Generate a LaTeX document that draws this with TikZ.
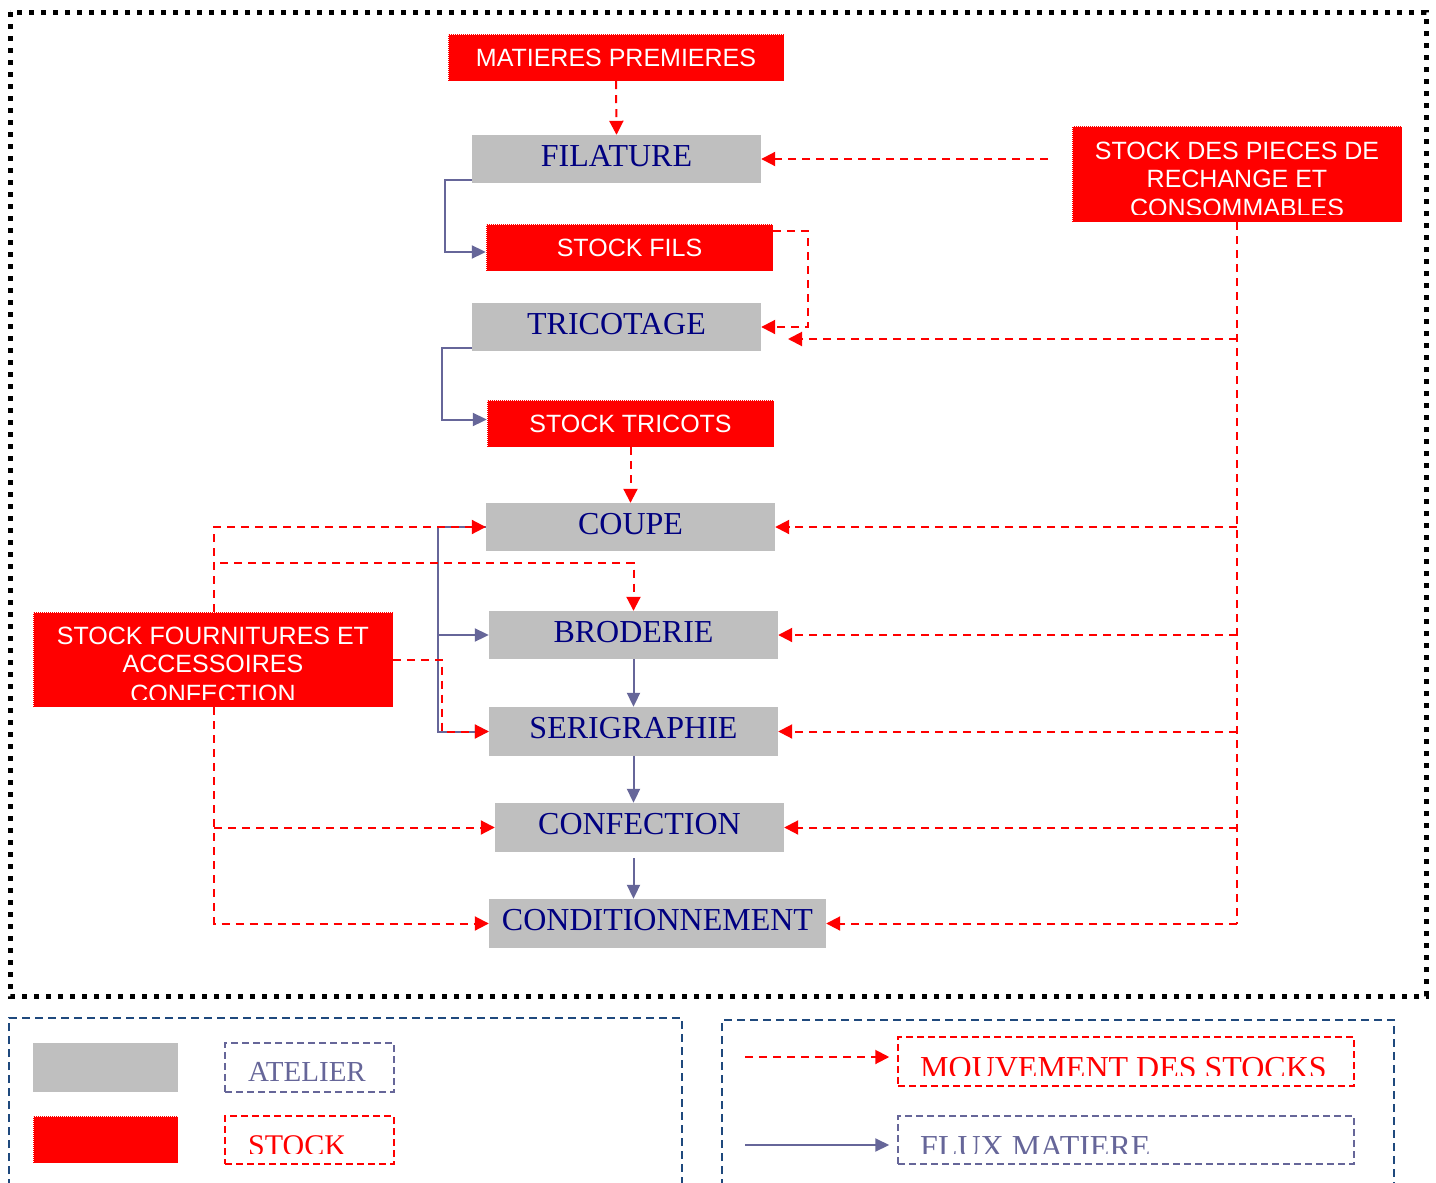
\documentclass[tikz,border=0pt]{standalone}
\usepackage{fontspec}
\setmainfont{Liberation Serif}
\setsansfont{Liberation Sans}
\usetikzlibrary{arrows.meta}
\definecolor{atelier}{RGB}{191,191,191}
\definecolor{navytext}{RGB}{0,0,128}
\definecolor{flux}{RGB}{102,102,153}
\definecolor{legendframe}{RGB}{31,73,125}
\tikzset{
  workshop/.style={fill=atelier, inner sep=0pt, font=\fontsize{32}{32}\selectfont,
    text=navytext, text height=22pt, text depth=8pt},
  stockbox/.style={fill=red, inner sep=0pt, text=white,
    font=\sffamily\fontsize{25}{28}\selectfont, text height=18pt, text depth=0pt,
    postaction={draw=white, line width=1pt, dash pattern=on 1pt off 1pt}},
  stocktext/.style={text=white, inner sep=0pt, anchor=base,
    font=\sffamily\fontsize{25}{28}\selectfont},
  move/.style={red, line width=2pt, dash pattern=on 8pt off 6pt,
    -{Triangle[length=14pt,width=14pt]}},
  moveline/.style={red, line width=2pt, dash pattern=on 8pt off 6pt},
  flow/.style={flux, line width=2pt, -{Triangle[length=14pt,width=13pt]}},
  flowline/.style={flux, line width=2pt},
  keybox/.style={inner sep=0pt, line width=1.5pt, dash pattern=on 7pt off 4pt},
  keytext/.style={inner sep=0pt, anchor=base west, font=\fontsize{32}{32}\selectfont},
}
\begin{document}
\begin{tikzpicture}[x=1pt,y=-1pt]
\clip (0,0) rectangle (1436,1183);
\fill[white] (0,0) rectangle (1436,1183);

% outer frame
\draw[black, line width=5pt, dash pattern=on 5pt off 7pt] (10,12) rectangle (1426,996);

% workshops
\node[workshop, minimum width=289pt, minimum height=48pt] (fil)   at (616.5,159)   {FILATURE};
\node[workshop, minimum width=289pt, minimum height=48pt] (tric)  at (616.5,327)   {TRICOTAGE};
\node[workshop, minimum width=289pt, minimum height=48pt] (coupe) at (630.5,527)   {COUPE};
\node[workshop, minimum width=289pt, minimum height=48pt] (brod)  at (633.5,635)   {BRODERIE};
\node[workshop, minimum width=289pt, minimum height=49pt] (seri)  at (633.5,731.5) {SERIGRAPHIE};
\node[workshop, minimum width=289pt, minimum height=49pt] (conf)  at (639.5,827.5) {CONFECTION};
\node[workshop, minimum width=337pt, minimum height=49pt] (cond)  at (657.5,923.5) {CONDITIONNEMENT};

% stocks
\node[stockbox, minimum width=336pt, minimum height=47pt] (mat)   at (616,57.5)    {MATIERES PREMIERES};
\node[stockbox, minimum width=287pt, minimum height=47pt] (sfils) at (629.5,247.5) {STOCK FILS};
\node[stockbox, minimum width=287pt, minimum height=47pt] (stric) at (630.5,423.5) {STOCK TRICOTS};
\node[stockbox, minimum width=330pt, minimum height=96pt] (pieces) at (1237,174) {};
\node[stockbox, minimum width=360pt, minimum height=95pt] (fourn)  at (213,659.5) {};
\begin{scope}
  \clip (1072,126) rectangle (1402,214);
  \node[stocktext] at (1237,159) {STOCK DES PIECES DE};
  \node[stocktext] at (1237,187) {RECHANGE ET};
  \node[stocktext] at (1237,216) {CONSOMMABLES};
\end{scope}
\begin{scope}
  \clip (33,612) rectangle (393,699);
  \node[stocktext] at (213,644) {STOCK FOURNITURES ET};
  \node[stocktext] at (213,672) {ACCESSOIRES};
  \node[stocktext] at (213,702) {CONFECTION};
\end{scope}

% material flow
\draw[flow] ([yshift=-21pt]fil.west) -- ++(-27,0) |- ([yshift=-4.5pt]sfils.west);
\draw[flow] ([yshift=-21pt]tric.west) -- ++(-30,0) |- ([yshift=4pt]stric.west);
\draw[flow] (coupe.west) -- ++(-48,0) |- (seri.west);
\draw[flow] ([xshift=-48pt]coupe.west |- brod.west) -- (brod.west);
\draw[flow] (brod.south) -- (seri.north);
\draw[flow] (seri.south) -- (seri.south |- conf.north);
\draw[flow] ([yshift=-6pt]seri.south |- conf.south) -- (seri.south |- cond.north);

% stock movements
\draw[move] (mat.south) -- (fil.north);
\draw[move] (stric.south) -- (coupe.north);
\draw[move] ([yshift=16.5pt]sfils.east) -- ++(35,0) |- (tric.east);

\coordinate (pfeed) at (1048,159);
\coordinate (tricin) at (788,339);
\draw[move] (pfeed) -- (fil.east);
\draw[moveline] (pieces.south) -- (pieces.south |- cond.east);
\draw[moveline] (pieces.south |- tricin) -- ++(-10,0);
\draw[move] (pieces.south |- tricin) -- (tricin);
\draw[move] (pieces.south |- coupe.east) -- (coupe.east);
\draw[move] (pieces.south |- brod.east) -- (brod.east);
\draw[move] (pieces.south |- seri.east) -- (seri.east);
\draw[move] (pieces.south |- conf.east) -- (conf.east);
\draw[move] (pieces.south |- cond.east) -- (cond.east);

\coordinate (fbrod) at (220,563);
\draw[move] ([xshift=1pt]fourn.north) -- ([xshift=1pt]fourn.north |- coupe.west) -- (coupe.west);
\draw[move] (fbrod) -| (brod.north);
\draw[move] (fourn.east) -- ++(49,0) |- (seri.west);
\draw[move] ([xshift=1pt]fourn.south) -- ([xshift=1pt]fourn.south |- cond.west) -- (cond.west);
\draw[move] ([xshift=1pt]fourn.south |- conf.west) -- (conf.west);

% key
\draw[legendframe, line width=2pt, dash pattern=on 8pt off 5pt] (9,1200) |- (682,1018) -- (682,1200);
\draw[legendframe, line width=2pt, dash pattern=on 8pt off 5pt] (722,1200) |- (1394,1020) -- (1394,1200);

\node[fill=atelier, inner sep=0pt, minimum width=145pt, minimum height=49pt] (swgray) at (105.5,1067.5) {};
\node[stockbox, minimum width=145pt, minimum height=47pt] (swred) at (105.5,1139.5) {};

\node[keybox, draw=flux, minimum width=169pt, minimum height=49pt] (katelier) at (309.5,1067.5) {};
\node[keytext, text=flux, font=\fontsize{29}{29}\selectfont] at (248,1081) {ATELIER};
\node[keybox, draw=red, minimum width=169pt, minimum height=48pt] (kstock) at (309.5,1140) {};
\begin{scope}
  \clip (225,1116) rectangle (394,1153);
  \node[keytext, text=red, font=\fontsize{30}{30}\selectfont] at (248,1155) {STOCK};
\end{scope}

\node[keybox, draw=red, minimum width=456pt, minimum height=49pt] (kmouv) at (1126,1061.5) {};
\node[keybox, draw=flux, minimum width=456pt, minimum height=48pt] (kflux) at (1126,1140) {};
\begin{scope}
  \clip (898,1037) rectangle (1354,1075);
  \node[keytext, text=red] at (920,1078) {MOUVEMENT DES STOCKS};
\end{scope}
\begin{scope}
  \clip (898,1116) rectangle (1354,1153);
  \node[keytext, text=flux] at (920,1157) {FLUX MATIERE};
\end{scope}

\coordinate (kmstart) at (745,1057);
\coordinate (kfstart) at (745,1145);
\draw[move] (kmstart) -- ([xshift=-8pt]kmouv.west |- kmstart);
\draw[flow] (kfstart) -- ([xshift=-8pt]kflux.west |- kfstart);
\end{tikzpicture}
\end{document}
